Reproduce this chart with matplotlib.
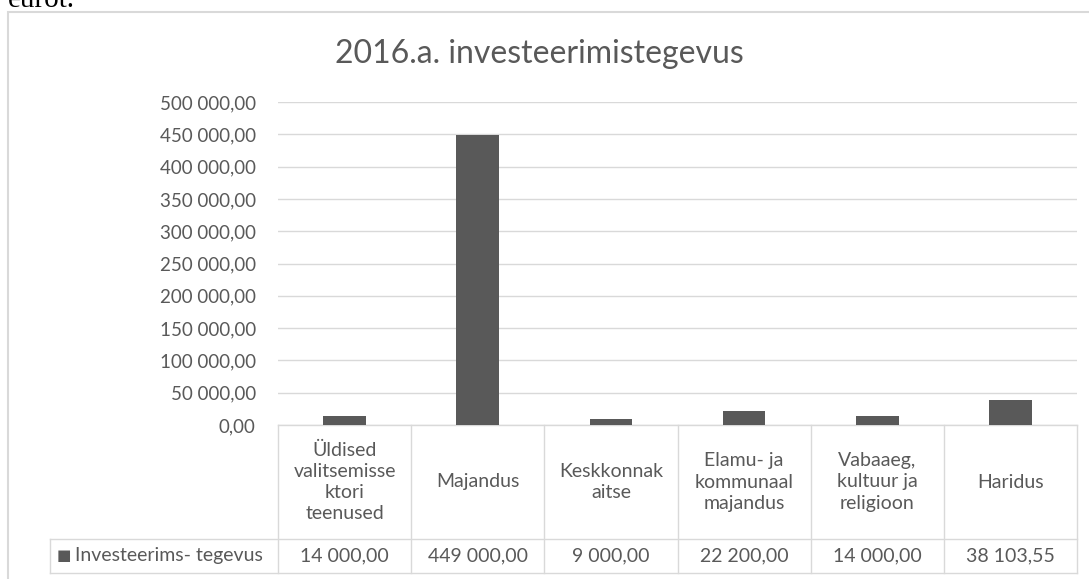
import matplotlib.pyplot as plt
from matplotlib.patches import Rectangle
from matplotlib.transforms import blended_transform_factory

plt.rcParams['font.family'] = ['Lato', 'DejaVu Sans']

# andmed
kategooriad = ['Üldised\nvalitsemisse\nktori\nteenused', 'Majandus', 'Keskkonnak\naitse',
               'Elamu- ja\nkommunaal\nmajandus', 'Vabaaeg,\nkultuur ja\nreligioon', 'Haridus']
vaartused = [14000.00, 449000.00, 9000.00, 22200.00, 14000.00, 38103.55]
seeria = 'Investeerims- tegevus'
y_ticks = list(range(0, 500001, 50000))

W, H = 1089, 579
tekst = '#595959'
joon = '#d9d9d9'
riba = '#595959'
fs = 13.5


def fmt(v):
    s = f'{v:,.2f}'
    return s.replace(',', ' ').replace('.', ',')


fig = plt.figure(figsize=(W / 100, H / 100), dpi=100)

# diagrammi raam
fig.patches.append(Rectangle((8 / W, -0.05), 1.2, (H - 12) / H + 0.05, transform=fig.transFigure,
                             fill=False, edgecolor=joon, lw=1.5))
# dokumendi tekst üleval (poolik, nagu originaalis)
fig.text(8 / W, 1.0, 'eurot.', family='Liberation Serif', fontsize=21, color='black', va='center')

ax = fig.add_axes([278 / W, (H - 425) / H, (1077 - 278) / W, (425 - 102) / H])
x = list(range(len(kategooriad)))
ax.bar(x, vaartused, width=0.32, color=riba, zorder=3)
ax.set_xlim(-0.5, len(kategooriad) - 0.5)
ax.set_ylim(0, 500000)
ax.set_yticks(y_ticks)
ax.set_yticklabels([fmt(v) for v in y_ticks], color=tekst, fontsize=fs)
ax.tick_params(axis='y', length=0, pad=16)
ax.set_xticks([])
ax.grid(axis='y', color=joon, lw=1)
for s in ax.spines.values():
    s.set_visible(False)

fig.text(539 / W, (H - 54) / H, '2016.a. investeerimistegevus', ha='center', va='center',
         fontsize=23, color=tekst)

# andmetabel
tr = blended_transform_factory(ax.transData, ax.transAxes)
ah = 425 - 102
y_mid = -(539 - 425) / ah
y_bot = -(573 - 425) / ah
xl, xr = -0.5, len(kategooriad) - 0.5
kw = dict(transform=tr, color=joon, lw=1, clip_on=False)
ax.plot([xl, xr], [0, 0], **kw)
ax.plot([xr, xr], [0, y_bot], **kw)
for i in x:
    ax.plot([i - 0.5, i - 0.5], [0, y_bot], **kw)
    ax.text(i, y_mid / 2, kategooriad[i], transform=tr, ha='center', va='center',
            fontsize=14, color=tekst, linespacing=1.3)
    ax.text(i, (y_mid + y_bot) / 2, fmt(vaartused[i]), transform=tr, ha='center', va='center',
            fontsize=14, color=tekst)
# seeria lahter vasakul
unit = (1077 - 278) / len(kategooriad)
x_lab = xl - (278 - 50) / unit
ax.plot([x_lab, xr], [y_mid, y_mid], **kw)
ax.plot([x_lab, xr], [y_bot, y_bot], **kw)
ax.plot([x_lab, x_lab], [y_mid, y_bot], **kw)
ax.text(x_lab + 7 / unit, (y_mid + y_bot) / 2, '\u25a0', transform=tr, ha='left', va='center',
        fontsize=11, color=riba, family='DejaVu Sans')
ax.text(x_lab + 25 / unit, (y_mid + y_bot) / 2, seeria, transform=tr, ha='left', va='center',
        fontsize=14, color=tekst)

fig.savefig('out.png', dpi=100)
